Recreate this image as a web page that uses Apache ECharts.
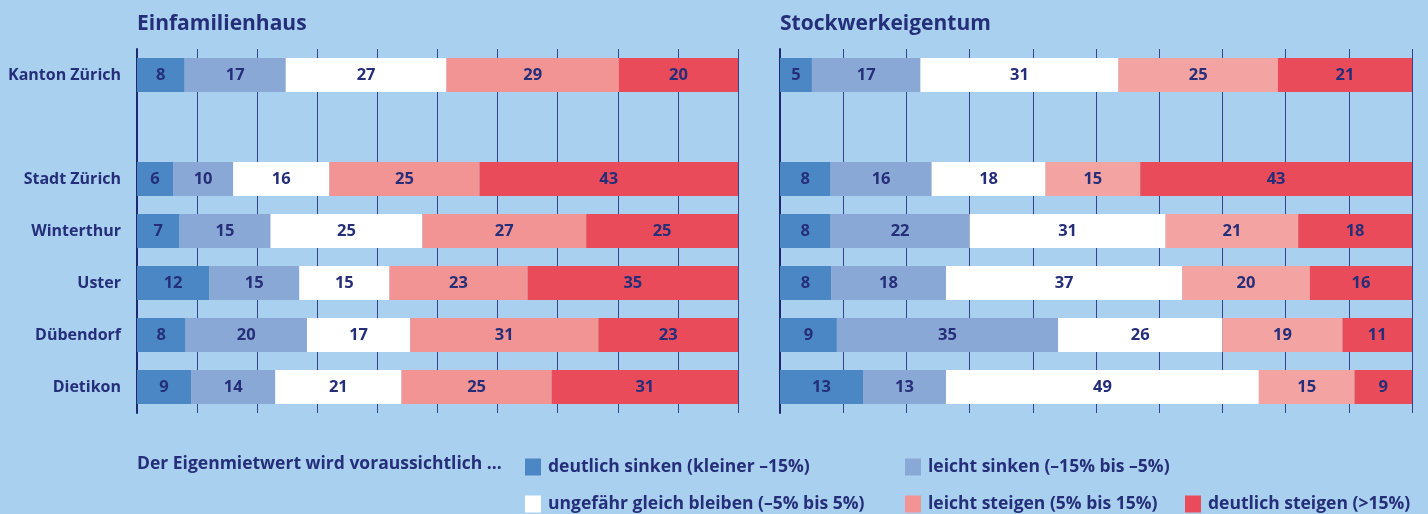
<!DOCTYPE html>
<html>
<head>
<meta charset="utf-8">
<script src="https://cdn.jsdelivr.net/npm/echarts@6/dist/echarts.min.js"></script>
<style>
  html, body { margin: 0; padding: 0; background: #a9d0ef; }
  #chart { width: 1428px; height: 514px; }
</style>
</head>
<body>
<div id="chart"></div>
<script>
// Regionen (leere Zeile = Abstand nach Kanton Zürich)
const regions = ['Kanton Zürich', '', 'Stadt Zürich', 'Winterthur', 'Uster', 'Dübendorf', 'Dietikon']
const categoryNames = [
  'deutlich sinken (kleiner –15%)',
  'leicht sinken (–15% bis –5%)',
  'ungefähr gleich bleiben (–5% bis 5%)',
  'leicht steigen (5% bis 15%)',
  'deutlich steigen (>15%)'
]

// Einfamilienhaus
const efhDeutlichSinken = [8, null, 6, 7, 12, 8, 9]
const efhLeichtSinken = [17, null, 10, 15, 15, 20, 14]
const efhGleich = [27, null, 16, 25, 15, 17, 21]
const efhLeichtSteigen = [29, null, 25, 27, 23, 31, 25]
const efhDeutlichSteigen = [20, null, 43, 25, 35, 23, 31]

// Stockwerkeigentum
const swDeutlichSinken = [5, null, 8, 8, 8, 9, 13]
const swLeichtSinken = [17, null, 16, 22, 18, 35, 13]
const swGleich = [31, null, 18, 31, 37, 26, 49]
const swLeichtSteigen = [25, null, 15, 21, 20, 19, 15]
const swDeutlichSteigen = [21, null, 43, 18, 16, 11, 9]

const navy = '#252e78'
const font = 'Open Sans'
const colorsLeft = ['#4b87c5', '#8aa8d5', '#ffffff', '#f29394', '#e94b5b']
const colorsRight = ['#4b87c5', '#8aa8d5', '#ffffff', '#f4a3a3', '#e94b5b']

const chart = echarts.init(document.getElementById('chart'))

// Gerundete Werte ergeben nicht immer 100 -> auf 100% skalieren, Label zeigt Originalwert
function buildSeries(groups, colors, gridIdx) {
  const sums = regions.map((r, i) => groups.reduce((s, g) => s + (g[i] || 0), 0))
  return groups.map((g, k) => ({
    name: categoryNames[k],
    type: 'bar',
    stack: 'p' + gridIdx,
    xAxisIndex: gridIdx,
    yAxisIndex: gridIdx,
    barWidth: 34,
    itemStyle: { color: colors[k] },
    label: {
      show: true,
      position: 'inside',
      color: navy,
      fontFamily: font,
      fontWeight: 'bold',
      fontSize: 16.5,
      formatter: p => g[p.dataIndex]
    },
    data: g.map((v, i) => v == null ? '-' : v / sums[i] * 100)
  }))
}

function xAxis(gridIdx) {
  return {
    type: 'value', gridIndex: gridIdx, min: 0, max: 100, interval: 10,
    axisLabel: { show: false }, axisTick: { show: false }, axisLine: { show: false },
    splitLine: { show: true, lineStyle: { color: '#34438c', width: 1 } }
  }
}

function yAxis(gridIdx, showLabels) {
  return {
    type: 'category', gridIndex: gridIdx, inverse: true, data: regions,
    axisTick: { show: false },
    axisLine: { show: true, lineStyle: { color: '#1f2870', width: 2 } },
    axisLabel: {
      show: showLabels, color: navy, fontFamily: font, fontWeight: 'bold',
      fontSize: 16, margin: 16
    }
  }
}

function legendItem(name, left, top) {
  return {
    data: [name], left: left, top: top, icon: 'rect',
    itemWidth: 16, itemHeight: 17, itemGap: 0, selectedMode: false,
    textStyle: { color: navy, fontFamily: font, fontWeight: 'bold', fontSize: 17.5, padding: [0, 0, 0, 2] }
  }
}

const titleStyle = { color: navy, fontFamily: font, fontWeight: 'bold', fontSize: 21 }

chart.setOption({
  backgroundColor: '#a9d0ef',
  animation: false,
  title: [
    { text: 'Einfamilienhaus', left: 132, top: 9, textStyle: titleStyle },
    { text: 'Stockwerkeigentum', left: 775, top: 9, textStyle: titleStyle },
    { text: 'Der Eigenmietwert wird voraussichtlich ...', left: 132, top: 450,
      textStyle: { color: navy, fontFamily: font, fontWeight: 'bold', fontSize: 17.5 } }
  ],
  legend: [
    legendItem(categoryNames[0], 520, 453),
    legendItem(categoryNames[1], 900, 453),
    legendItem(categoryNames[2], 520, 490),
    legendItem(categoryNames[3], 900, 490),
    legendItem(categoryNames[4], 1180, 490)
  ],
  grid: [
    { left: 137, top: 49, width: 601, height: 364 },
    { left: 780, top: 49, width: 632, height: 364 }
  ],
  xAxis: [xAxis(0), xAxis(1)],
  yAxis: [yAxis(0, true), yAxis(1, false)],
  series: [
    ...buildSeries([efhDeutlichSinken, efhLeichtSinken, efhGleich, efhLeichtSteigen, efhDeutlichSteigen], colorsLeft, 0),
    ...buildSeries([swDeutlichSinken, swLeichtSinken, swGleich, swLeichtSteigen, swDeutlichSteigen], colorsRight, 1)
  ]
})
</script>
</body>
</html>
